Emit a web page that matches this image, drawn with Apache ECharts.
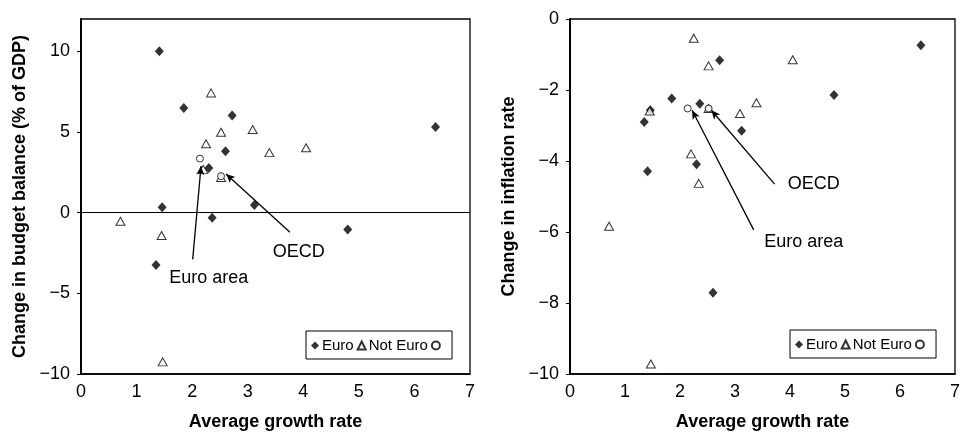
<!DOCTYPE html>
<html>
<head>
<meta charset="utf-8">
<script src="https://cdn.jsdelivr.net/npm/echarts@6/dist/echarts.min.js"></script>
<style>
  html, body { margin: 0; padding: 0; background: #fff; }
  #chart { width: 963px; height: 436px; }
</style>
</head>
<body>
<div id="chart"></div>
<script>
// Euro-area members: average growth, change in budget balance, change in inflation
const euroGrowth    = [1.35, 1.41, 1.46, 1.85, 2.30, 2.36, 2.60, 2.72, 3.12, 4.80, 6.38];
const euroBudget    = [-3.25, 10.0, 0.33, 6.49, 2.77, -0.32, 3.80, 6.02, 0.47, -1.04, 5.30];
const euroInflation = [-2.90, -4.29, -2.57, -2.24, -4.09, -2.39, -7.71, -1.16, -3.15, -2.14, -0.74];

// Countries outside the euro area
const notEuroGrowth    = [0.71, 1.45, 1.47, 2.20, 2.25, 2.34, 2.52, 2.52, 3.09, 3.39, 4.05];
const notEuroBudget    = [-0.53, -1.42, -9.25, 2.68, 4.27, 7.42, 4.98, 2.18, 5.15, 3.72, 4.02];
const notEuroInflation = [-5.84, -2.59, -9.72, -3.80, -0.54, -4.63, -1.32, -2.52, -2.66, -2.36, -1.15];

// Aggregates
const aggregateNames     = ['Euro area', 'OECD'];
const aggregateGrowth    = [2.14, 2.52];
const aggregateBudget    = [3.35, 2.26];
const aggregateInflation = [-2.52, -2.52];

// Tick labels
const growthTicks    = [0, 1, 2, 3, 4, 5, 6, 7];
const budgetTicks    = [-10, -5, 0, 5, 10];
const inflationTicks = [-10, -8, -6, -4, -2, 0];

// Annotation callouts, in data units: [label x, label y, tail x, tail y, head x, head y]
const budgetCallouts = [
  [2.30, -4.05, 2.01, -2.90, 2.16, 2.89],
  [3.92, -2.45, 3.76, -1.22, 2.61, 2.40]
];
const inflationCallouts = [
  [4.25, -6.27, 3.34, -5.94, 2.22, -2.57],
  [4.43, -4.66, 3.72, -4.65, 2.57, -2.57]
];

const FONT = "'Liberation Sans', Arial, Helvetica, sans-serif";
const zip = (xs, ys) => xs.map((x, i) => [x, ys[i]]);
const minus = v => String(v).replace('-', '\u2212');

function xAxisFor(gridIndex) {
  return {
    type: 'value', gridIndex, min: 0, max: 7, interval: 1,
    name: 'Average growth rate', nameLocation: 'middle', nameGap: 39,
    nameTextStyle: { fontFamily: FONT, fontSize: 18, fontWeight: 'bold', color: '#000' },
    axisLine: { show: true, onZero: false, lineStyle: { color: '#000', width: 1.5 } },
    axisTick: { show: false },
    splitLine: { show: false },
    axisLabel: { fontFamily: FONT, fontSize: 18, color: '#000', margin: 9,
                 customValues: growthTicks, formatter: minus }
  };
}

function yAxisFor(gridIndex, min, max, ticks, name) {
  return {
    type: 'value', gridIndex, min, max,
    name, nameLocation: 'middle', nameGap: 52, nameRotate: 90,
    nameTextStyle: { fontFamily: FONT, fontSize: 18, fontWeight: 'bold', color: '#000' },
    axisLine: { show: true, lineStyle: { color: '#000', width: 2 } },
    axisTick: { show: true, length: 4, inside: false, customValues: ticks,
                lineStyle: { color: '#000', width: 1 } },
    splitLine: { show: false },
    axisLabel: { fontFamily: FONT, fontSize: 18, color: '#000', margin: 11,
                 customValues: ticks, formatter: minus }
  };
}

function callouts(list) {
  return {
    line: list.map(c => [
      { coord: [c[2], c[3]], symbol: 'none' },
      { coord: [c[4], c[5]], symbol: 'arrow', symbolSize: [6, 9] }
    ]),
    text: list.map((c, i) => ({
      coord: [c[0], c[1]], value: aggregateNames[i],
      label: { formatter: aggregateNames[i] }
    }))
  };
}

const diamondStyle = { color: '#000' };
const hollowStyle = { color: '#fff', borderColor: '#000', borderWidth: 1 };

function seriesFor(idx, euroY, notEuroY, aggY, calloutList, withZeroLine) {
  const c = callouts(calloutList);
  const euro = {
    name: 'Euro', type: 'scatter', xAxisIndex: idx, yAxisIndex: idx,
    symbol: 'diamond', symbolSize: [9, 10], itemStyle: diamondStyle,
    data: zip(euroGrowth, euroY), z: 3
  };
  if (withZeroLine) {
    euro.markLine = {
      silent: true, animation: false, symbol: ['none', 'none'],
      label: { show: false },
      lineStyle: { color: '#000', width: 1, type: 'solid' },
      data: [{ yAxis: 0 }]
    };
  }
  return [
    euro,
    {
      name: 'Not Euro', type: 'scatter', xAxisIndex: idx, yAxisIndex: idx,
      symbol: 'triangle', symbolSize: [9, 8], itemStyle: hollowStyle,
      data: zip(notEuroGrowth, notEuroY), z: 4
    },
    {
      name: ' ', type: 'scatter', xAxisIndex: idx, yAxisIndex: idx,
      symbol: 'circle', symbolSize: 7, itemStyle: hollowStyle,
      data: zip(aggregateGrowth, aggY), z: 5,
      markLine: {
        silent: true, animation: false,
        label: { show: false },
        lineStyle: { color: '#000', width: 1.3, type: 'solid' },
        emphasis: { disabled: true },
        data: c.line
      },
      markPoint: {
        silent: true, animation: false,
        symbol: 'circle', symbolSize: 1,
        itemStyle: { color: 'rgba(0,0,0,0)' },
        label: { show: true, position: 'inside', fontFamily: FONT, fontSize: 18, color: '#000' },
        data: c.text
      }
    }
  ];
}

function legendAt(left, top) {
  return {
    left, top, orient: 'horizontal',
    data: ['Euro', 'Not Euro', ' '],
    selectedMode: false,
    backgroundColor: '#fff',
    borderColor: '#000', borderWidth: 1, borderRadius: 0,
    padding: [7, 5, 6, 5],
    itemGap: 3, itemWidth: 8, itemHeight: 8,
    textStyle: { fontFamily: FONT, fontSize: 15, color: '#000', padding: [0, 0, 0, -2] }
  };
}

const chart = echarts.init(document.getElementById('chart'), null, { renderer: 'canvas' });
chart.setOption({
  animation: false,
  backgroundColor: '#fff',
  textStyle: { fontFamily: FONT },
  grid: [
    { left: 81, right: 493, top: 19, bottom: 56, show: true, borderColor: '#000', borderWidth: 1.3, containLabel: false },
    { left: 570, right: 5, top: 19, bottom: 56, show: true, borderColor: '#000', borderWidth: 1.3, containLabel: false }
  ],
  legend: [legendAt(306, 331), legendAt(790, 330)],
  xAxis: [xAxisFor(0), xAxisFor(1)],
  yAxis: [
    yAxisFor(0, -10, 12, budgetTicks, 'Change in budget balance (% of GDP)'),
    yAxisFor(1, -10, 0, inflationTicks, 'Change in inflation rate')
  ],
  series: [
    ...seriesFor(0, euroBudget, notEuroBudget, aggregateBudget, budgetCallouts, true),
    ...seriesFor(1, euroInflation, notEuroInflation, aggregateInflation, inflationCallouts, false)
  ]
});
</script>
</body>
</html>
